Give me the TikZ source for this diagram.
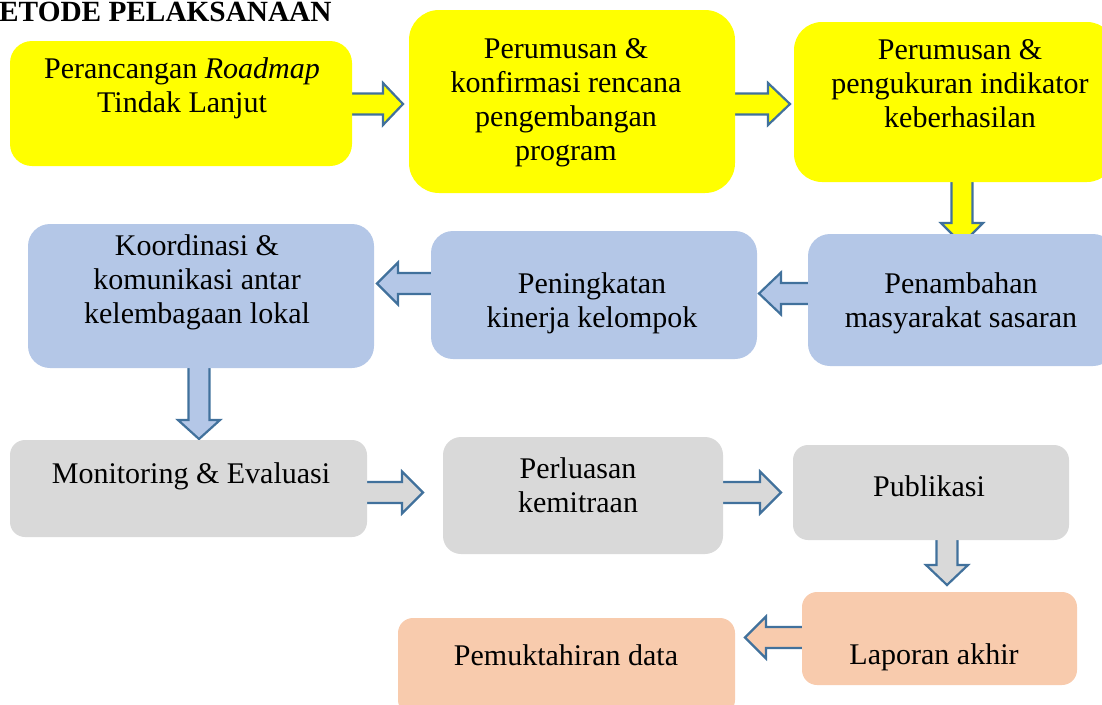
\documentclass[tikz,border=0pt]{standalone}
\usepackage{fontspec}
\setmainfont{Liberation Serif}
\definecolor{yel}{HTML}{FFFF00}
\definecolor{lblue}{HTML}{B4C7E7}
\definecolor{lgray}{HTML}{D9D9D9}
\definecolor{peach}{HTML}{F8CBAD}
\definecolor{aline}{HTML}{41719C}
\tikzset{
  box/.style={draw=none, inner sep=0pt, outer sep=0pt, rectangle},
  txt/.style={inner sep=0pt, align=center, anchor=north, font=\fontsize{30}{34}\selectfont},
  barrow/.style={draw=aline, line width=2.2pt, line join=miter},
}
% horizontal block arrow: tail x, tip x, centre y, head-base x, fill
\newcommand\hbarrow[5]{%
  \draw[barrow, fill=#5] (#1,#3-10.5) -- (#4,#3-10.5) -- (#4,#3-21) -- (#2,#3)
    -- (#4,#3+21) -- (#4,#3+10.5) -- (#1,#3+10.5) -- cycle;}
% vertical block arrow: tail y, tip y, centre x, head-base y, fill
\newcommand\vbarrow[5]{%
  \draw[barrow, fill=#5] (#3-10.5,#1) -- (#3-10.5,#4) -- (#3-21,#4) -- (#3,#2)
    -- (#3+21,#4) -- (#3+10.5,#4) -- (#3+10.5,#1) -- cycle;}
\begin{document}
\begin{tikzpicture}[x=1pt, y=-1pt]
\useasboundingbox (0,0) rectangle (1102,704);
\clip (0,0) rectangle (1102,704);

% block arrows (drawn below the boxes)
\hbarrow{345}{403}{104}{383}{yel}
\hbarrow{728}{790}{104}{768}{yel}
\vbarrow{175}{244}{962}{223}{yel}
\hbarrow{815}{759}{293.5}{781}{lblue}
\hbarrow{438}{377}{283.5}{398}{lblue}
\vbarrow{361}{439}{199}{420}{lblue}
\hbarrow{360}{423}{492.5}{402}{lgray}
\hbarrow{717}{781}{492.5}{760}{lgray}
\vbarrow{533}{585}{947}{565}{lgray}
\hbarrow{809}{745}{637.5}{766}{peach}

% boxes
\node[box, fill=yel, rounded corners=22pt, minimum width=342pt, minimum height=125pt] (A) at (181,103.5) {};
\node[box, fill=yel, rounded corners=30pt, minimum width=326pt, minimum height=183pt] (B) at (572,101.5) {};
\node[box, fill=yel, rounded corners=28pt, minimum width=321pt, minimum height=160pt] (C) at (954.5,102) {};
\node[box, fill=lblue, rounded corners=22pt, minimum width=346pt, minimum height=144pt] (D) at (201,296) {};
\node[box, fill=lblue, rounded corners=22pt, minimum width=326pt, minimum height=128pt] (E) at (594,295) {};
\node[box, fill=lblue, rounded corners=22pt, minimum width=307pt, minimum height=132pt] (F) at (961.5,300) {};
\node[box, fill=lgray, rounded corners=15pt, minimum width=357pt, minimum height=97pt] (G) at (188.5,488.5) {};
\node[box, fill=lgray, rounded corners=18pt, minimum width=280pt, minimum height=117pt] (H) at (583,495.5) {};
\node[box, fill=lgray, rounded corners=15pt, minimum width=276pt, minimum height=95pt] (I) at (931,492.5) {};
\node[box, fill=peach, rounded corners=15pt, minimum width=275pt, minimum height=93pt] (J) at (939.5,638.5) {};
\node[box, fill=peach, rounded corners=15pt, minimum width=337pt, minimum height=97pt] (K) at (566.5,666.5) {};

% title
\node[anchor=base west, inner sep=0pt, font=\bfseries\fontsize{29.3}{34}\selectfont] (title) at (-1,21) {ETODE PELAKSANAAN};

% texts
\node[txt] (tA) at (182,54.2) {\strut Perancangan \textit{Roadmap}\\\strut Tindak Lanjut};
\node[txt] (tB) at (566,34.2) {\strut Perumusan \&\\\strut konfirmasi rencana\\\strut pengembangan\\\strut program};
\node[txt] (tC) at (960,35.2) {\strut Perumusan \&\\\strut pengukuran indikator\\\strut keberhasilan};
\node[txt] (tD) at (197,231.2) {\strut Koordinasi \&\\\strut komunikasi antar\\\strut kelembagaan lokal};
\node[txt] (tE) at (592,269.2) {\strut Peningkatan\\\strut kinerja kelompok};
\node[txt] (tF) at (961,269.2) {\strut Penambahan\\\strut masyarakat sasaran};
\node[txt] (tG) at (191,459.2) {\strut Monitoring \& Evaluasi};
\node[txt] (tH) at (578,454.2) {\strut Perluasan\\\strut kemitraan};
\node[txt] (tI) at (929,472.2) {\strut Publikasi};
\node[txt] (tJ) at (934,640.2) {\strut Laporan akhir};
\node[txt] (tK) at (566,641.2) {\strut Pemuktahiran data};
\end{tikzpicture}
\end{document}
